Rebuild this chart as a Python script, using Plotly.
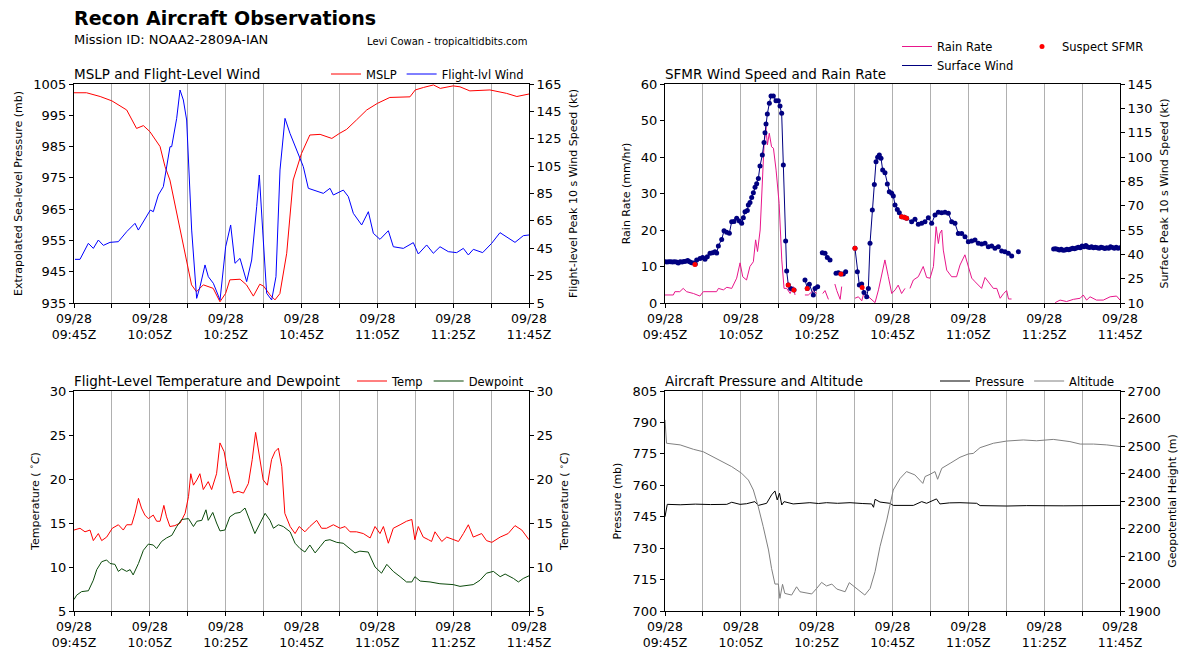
import datetime as dt
import plotly.graph_objects as go

BASE = dt.datetime(2022, 9, 28, 9, 45)

def tt(mins):
    return [BASE + dt.timedelta(minutes=m) for m in mins]

# ---------------- MSLP and Flight-Level Wind ----------------
mslp_t = [0, 3.3, 6.9, 10, 13.9, 16.5, 18.3, 20, 22.7, 24, 25.3, 27.1, 28.8, 30.2, 31, 32.3, 34.1,
          36.7, 38.5, 40, 41.1, 43.8, 45.5, 47.3, 49, 50, 51.7, 53, 54.3, 56.1, 57.8, 60, 62.2, 64.9,
          68, 70, 71.9, 74.5, 77.2, 80, 83.3, 88.6, 90, 92.2, 94.8, 96.6, 100, 101.8, 104.4, 109.7,
          114.1, 116.8, 120]
mslp = [1002.2, 1002.2, 1001.0, 999.6, 996.7, 990.8, 991.7, 989.8, 985.0, 978.6, 974.3, 963.7, 954.0,
        946.6, 940.8, 938.6, 940.8, 939.7, 935.4, 938.1, 942.4, 942.6, 940.8, 937.2, 941.0, 940.4,
        937.6, 936.0, 938.0, 950.9, 974.3, 982.8, 988.7, 988.9, 987.6, 989.2, 990.5, 993.5, 996.7,
        998.8, 1000.7, 1000.9, 1003.1, 1003.9, 1004.7, 1003.6, 1004.4, 1004.1, 1002.8, 1003.1,
        1002.0, 1001.0, 1001.8]

flw_t = [0.26, 1.58, 3.78, 5.10, 6.42, 7.74, 9.49, 11.69, 13.89, 16.09, 16.97, 18.29, 20.13, 20.92,
         22.24, 23.56, 25.32, 25.76, 27.08, 27.96, 28.84, 29.71, 31.03, 32.35, 33.23, 34.55, 35.43,
         36.75, 38.51, 40.00, 41.32, 42.46, 43.78, 45.54, 46.86, 48.18, 48.88, 49.76, 50.81, 52.13,
         53.27, 54.33, 55.65, 56.97, 58.73, 60.48, 61.80, 65.76, 67.52, 68.40, 71.03, 72.35, 73.67,
         75.87, 77.63, 78.95, 80.70, 82.90, 84.22, 86.86, 89.49, 90.81, 93.01, 94.77, 96.53, 98.73,
         100.92, 102.68, 104.00, 105.32, 107.78, 110.15, 112.35, 114.11, 116.31, 118.51, 120]
flw = [36.9, 36.9, 48.6, 44.9, 51.0, 47.1, 49.3, 49.8, 57.1, 63.2, 58.3, 64.4, 72.9, 71.7, 83.9, 90.0,
       119.2, 119.2, 139.9, 160.6, 153.3, 138.7, 58.3, 8.4, 16.9, 32.8, 24.2, 19.4, 7.2, 46.1, 62.0,
       34.0, 37.6, 20.6, 36.4, 75.4, 98.5, 58.3, 12.1, 7.2, 24.2, 102.2, 139.9, 128.9, 116.8, 104.6,
       88.8, 85.1, 88.8, 83.9, 87.5, 82.7, 70.5, 62.0, 71.7, 55.9, 51.5, 57.8, 46.1, 44.9, 49.1, 40.8,
       47.4, 41.3, 46.1, 42.5, 41.8, 44.9, 40.1, 44.2, 41.8, 48.6, 56.4, 53.0, 49.3, 54.2, 54.7]

# ---------------- SFMR Wind Speed and Rain Rate ----------------
rain_t = [0, 1.3, 2.2, 2.6, 3.9, 4.8, 5.7, 7.5, 9.2, 10.1, 11.9, 13.6, 14.1, 15.4, 16.3, 17.6, 18.9,
          19.8, 20.5, 21.5, 22.4, 23.3, 23.9, 24.4, 25.1, 25.5, 26.1, 26.6, 27.0, 27.5, 28.1, 28.6,
          29.3, 30.1, 30.8, 31.4, 32.1, 33.0, 33.8, 34.3, 35.5,
          36.9, 37.8, 39.1, 40.0, 40.8, 41.6, 42.2, 43.1, 44.0,
          44.8, 45.3, 46.2, 46.6, 48.0,
          50.1, 51.0, 51.9, 52.3, 52.7, 54.1, 55.4, 56.3, 57.1, 58.0, 58.9, 59.8, 60.7, 61.5, 62.4,
          63.3, 64.0,
          64.6, 65.5, 66.8, 68.1, 69.0, 69.9, 70.8, 71.5, 72.1, 72.5, 73.0, 73.4, 74.3, 75.6, 76.9,
          77.8, 79.1, 80.0, 80.9, 81.8, 82.6, 83.5, 84.4, 85.7, 86.6, 87.5, 88.4, 89.3, 90.1, 90.6,
          91.4, 97.0,
          102.9, 104.2, 105.9, 107.7, 109.5, 110.3, 111.2, 112.1, 113.8, 115.6, 117.4, 119.1, 120]
rain = [2.2, 2.2, 2.2, 3.1, 3.1, 4.0, 3.1, 2.6, 1.9, 3.1, 3.1, 3.1, 4.0, 3.6, 4.3, 4.0, 6.8, 11.0, 7.2,
        6.3, 10.0, 11.3, 17.3, 14.1, 20.0, 30.0, 42.8, 48.3, 43.3, 46.5, 42.8, 42.4, 36.4, 27.3, 11.8,
        4.0, 4.0, 2.6, 4.5, 2.2, None,
        2.2, 2.2, 3.4, 2.6, None, 2.6, 3.4, 1.0, None,
        5.2, 3.4, 1.0, 4.5, None,
        1.3, 1.7, 0.6, 2.2, 2.6, 1.3, 0.1, 3.6, 7.2, 11.8, 7.2, 2.6, 3.6, 4.9, 2.6, 4.0, None,
        4.0, 6.3, 7.2, 10.0, 7.0, 6.8, 10.0, 20.9, 16.3, 19.1, 20.0, 14.5, 9.0, 7.2, 7.2, 10.4,
        13.2, 10.0, 6.8, 5.8, 4.9, 4.0, 7.0, 5.4, 4.0, 4.0, 1.3, 2.6, 3.4, 1.1, 1.1, None,
        0.1, 0.8, 0.4, 1.0, 1.3, 2.2, 0.8, 1.7, 0.8, 0.8, 1.7, 1.9, 0.8]

sfc_t = [0, 0.5, 1, 1.5, 2, 2.5, 3, 3.5, 4, 4.5, 5, 5.5, 6, 6.5, 7, 7.5, 8.0, 8.35, 9.23, 9.93,
         10.55, 11.16, 11.87, 12.57, 13.19, 13.63, 14.07, 14.95, 15.56, 16.26, 16.97, 17.58, 18.20,
         18.90, 19.60, 20.22, 20.66, 21.10, 21.71, 21.98, 22.42, 22.86, 23.30, 23.74, 24.18, 24.62,
         25.05, 25.67, 26.11, 26.37, 26.64, 26.99, 27.52, 27.96, 28.57, 29.27, 29.89, 30.33, 30.77,
         31.21, 31.82, 32.09, 32.53, 33.14, 34.02, 35.5,
         36.92, 37.54, 38.07, 39.12, 39.56, 40.26, 40.9,
         41.49, 42.20, 42.81, 43.52, 44.3,
         45.10, 45.71, 46.42, 47.03, 47.65, 48.9,
         50.11, 50.73, 51.25, 51.87, 52.48, 53.19, 53.63, 54.07, 54.68, 55.21, 55.65, 56.09, 56.53,
         56.97, 57.41, 58.02, 58.64, 59.16, 59.78, 60.22, 60.66, 61.27, 61.80, 62.42, 63.12, 63.74,
         65.05, 65.93, 66.81, 67.69, 68.57, 69.45, 70.33, 71.21, 72.09, 72.97, 73.85, 74.73, 75.60,
         76.48, 77.36, 78.24, 79.12, 80.00, 80.88, 81.76, 82.64, 83.52, 84.40, 85.27, 86.15, 87.03,
         87.91, 88.79, 89.67, 90.55, 91.43, 92.3, 93.19, 97.0,
         102.5, 103, 103.5, 104, 104.5, 105, 105.5, 106, 106.5, 107, 107.5, 108, 108.5, 109, 109.5,
         110, 110.5, 111, 111.5, 112, 112.5, 113, 113.5, 114, 114.5, 115, 115.5, 116, 116.5, 117,
         117.5, 118, 118.5, 119, 119.5, 120]
sfc = [35.5, 35.3, 35.5, 35.5, 35.2, 35.5, 35.3, 34.6, 35.5, 35.3, 35.6, 35.8, 36.2, 35.5, 34.8,
       34.6, 34.0, 36.5, 37.5, 38.0, 37.0, 38.5, 40.6, 41.0, 41.6, 40.8, 45.1, 49.2, 54.5, 53.6,
       53.0, 60.1, 60.3, 62.2, 60.5, 59.1, 62.5, 66.3, 67.0, 70.4, 72.0, 75.1, 78.0, 81.3, 83.5,
       86.8, 94.4, 101.2, 109.0, 115.0, 120.3, 126.5, 133.1, 137.6, 137.6, 134.7, 134.7, 131.4,
       126.9, 95.0, 48.2, 29.7, 21.1, 19.0, 18.0, None,
       24.2, 19.0, 21.5, 14.9, 19.0, 20.0, None,
       41.0, 40.6, 38.1, 36.5, None,
       28.3, 28.7, 27.9, 27.9, 29.3, None,
       43.7, 29.3, 21.1, 21.7, 16.4, 13.9, 19.0, 46.8, 67.3, 83.1, 97.1, 99.8, 101.2, 99.2, 92.0,
       90.3, 83.4, 78.6, 77.6, 76.0, 70.4, 67.7, 65.7, 63.2, 62.8, 62.2, 60.1, 61.6, 58.5, 59.1,
       60.1, 62.6, 59.1, 64.2, 65.9, 65.7, 65.9, 65.3, 60.1, 59.1, 52.9, 52.9, 50.9, 47.8, 48.2,
       48.8, 46.8, 46.4, 46.8, 44.7, 45.1, 43.7, 44.7, 42.0, 41.6, 40.6, 39.0, None, 41.6, None,
       43.3, 43.5, 43.1, 42.7, 43.1, 42.5, 42.7, 43.1, 42.9, 43.3, 43.7, 43.5, 43.9, 44.3, 44.0,
       45.2, 44.6, 45.5, 44.5, 44.2, 44.6, 44.0, 44.4, 44.1, 43.8, 44.3, 44.0, 43.6, 44.1, 43.8,
       44.6, 44.2, 43.7, 44.3, 43.8, 44.1]

sus_t = [7.9, 32.5, 34.0, 37.5, 46.4, 50.1, 52.0, 62.4, 63.1, 63.7]
sus = [33.8, 21.1, 18.0, 19.0, 27.9, 43.7, 19.5, 63.2, 62.8, 62.2]

# ---------------- Temperature and Dewpoint ----------------
temp_t = [0, 1.58, 2.9, 4.22, 5.1, 6.42, 7.3, 8.62, 10.1, 11.7, 13.0, 13.9, 15.2, 16.1, 17.0, 17.8,
          18.7, 19.6, 20.9, 21.8, 22.7, 23.7, 24.4, 25.3, 26.6, 28.0, 29.3, 30.2, 30.8, 31.5, 32.4,
          33.2, 34.1, 35.4, 36.3, 37.6, 38.5, 39.6, 40.3, 41.1, 42.0, 43.3, 44.7, 46.0, 47.0, 47.9,
          49.1, 49.9, 51.0, 52.1, 53.0, 53.9, 54.8, 55.6, 57.0, 58.3, 59.4, 60.9, 62.2, 64.0, 65.3,
          66.6, 68.4, 70.2, 71.5, 72.8, 74.5, 76.3, 78.1, 79.4, 80.7, 81.6, 82.9, 84.2, 86.0, 87.7,
          89.1, 89.9, 90.8, 92.1, 93.5, 94.3, 95.2, 97.0, 98.3, 100.0, 101.4, 102.7, 104.0, 105.3,
          107.5, 108.8, 110.2, 112.4, 114.5, 116.3, 118.1, 120]
temp = [14.2, 14.4, 14.0, 14.2, 13.0, 13.8, 13.0, 13.4, 14.4, 14.8, 14.2, 14.8, 14.8, 16.1, 17.8,
        16.7, 15.9, 15.5, 15.9, 15.2, 15.2, 17.0, 15.7, 14.6, 14.7, 15.0, 16.1, 18.0, 20.6, 19.3,
        19.9, 20.6, 18.8, 19.7, 18.8, 20.6, 24.1, 23.1, 21.4, 19.9, 18.4, 18.6, 18.4, 19.5, 22.2,
        25.3, 21.8, 19.9, 19.3, 22.2, 23.1, 23.5, 21.4, 16.1, 14.6, 13.8, 14.6, 14.0, 14.6, 15.3,
        14.4, 14.4, 14.8, 14.4, 14.6, 14.0, 14.0, 13.8, 13.3, 14.6, 13.8, 14.6, 12.7, 14.4, 14.8,
        15.2, 15.4, 13.1, 14.6, 13.4, 13.1, 12.9, 14.0, 12.9, 13.4, 13.1, 12.9, 13.8, 14.8, 13.4,
        13.8, 13.0, 12.8, 13.4, 13.8, 14.7, 14.2, 13.1]

dew_t = [0, 0.7, 2.0, 3.8, 5.1, 6.0, 7.3, 8.6, 9.5, 10.8, 11.7, 12.6, 13.9, 14.8, 15.6, 17.0, 18.3,
         19.6, 20.9, 21.8, 23.1, 24.4, 25.8, 27.1, 28.4, 30.2, 31.5, 32.4, 33.7, 34.8, 35.4, 36.6,
         37.6, 38.5, 39.8, 41.1, 42.5, 43.8, 45.1, 46.4, 47.7, 49.1, 50.4, 51.7, 52.6, 53.9, 55.2,
         57.0, 58.3, 59.6, 60.9, 62.2, 63.6, 64.9, 66.2, 67.5, 69.3, 71.0, 72.8, 74.1, 75.4, 77.6,
         79.4, 81.1, 82.5, 84.2, 86.0, 87.7, 89.1, 89.9, 91.3, 93.9, 96.5, 100.0, 101.8, 105.3,
         107.1, 108.8, 110.6, 112.4, 113.7, 115.9, 117.2, 118.5, 120]
dew = [6.3, 6.8, 7.2, 7.3, 8.5, 9.7, 10.6, 10.8, 10.4, 10.3, 9.5, 9.8, 9.5, 9.7, 9.1, 10.4, 11.9,
       12.6, 12.5, 12.1, 12.9, 13.3, 13.6, 14.6, 15.4, 15.5, 14.6, 15.2, 15.3, 16.5, 15.3, 16.2,
       15.0, 14.1, 14.2, 15.7, 16.1, 16.2, 16.7, 15.3, 13.8, 15.0, 16.1, 15.3, 14.4, 14.8, 14.6,
       14.0, 12.7, 12.1, 11.7, 12.5, 11.6, 12.3, 13.0, 13.1, 12.8, 12.7, 12.1, 11.6, 11.8, 11.7,
       10.0, 9.3, 10.3, 9.5, 8.9, 8.3, 8.3, 8.9, 8.4, 8.3, 8.1, 8.0, 7.8, 8.0, 8.5, 9.3, 9.5, 8.9,
       9.2, 8.7, 8.3, 8.7, 9.0]

# ---------------- Aircraft Pressure and Altitude ----------------
pres_t = [0, 0.6, 4.0, 8.0, 12.0, 16.3, 17.6, 19.8, 21.5, 23.7, 24.6, 26.8, 28.1, 29.0, 29.6, 30.2,
          30.8, 31.4, 33.8, 36.0, 38.2, 40.5, 42.6, 45.5, 48.8, 52.0, 54.5, 55.0, 55.4, 56.7, 59.3,
          60.2, 65.5, 67.7, 69.0, 71.6, 72.5, 75.0, 77.8, 82.2, 83.1, 90.1, 95.4, 105.0, 120]
pres = [745.0, 750.9, 750.7, 751.0, 750.8, 750.9, 751.9, 750.9, 751.2, 752.2, 750.4, 751.4, 755.4,
        757.3, 753.0, 756.2, 750.6, 752.2, 751.1, 751.5, 751.7, 751.3, 751.7, 751.4, 751.7, 751.3,
        751.1, 749.5, 753.3, 752.0, 751.4, 750.4, 750.4, 752.2, 751.4, 753.5, 751.1, 751.6, 751.7,
        751.4, 750.3, 750.1, 750.3, 750.2, 750.4]

alt_t = [0, 0.4, 4.0, 7.5, 10.1, 12.7, 15.4, 17.6, 20.2, 22.0, 23.3, 24.6, 25.9, 27.3, 28.1, 29.0,
         29.9, 30.3, 31.0, 31.6, 33.4, 34.7, 35.6, 38.7, 40.0, 41.3, 42.6, 44.0, 45.3, 47.5, 48.6,
         50.5, 52.7, 54.1, 55.4, 56.7, 58.5, 60.2, 62.0, 63.7, 65.9, 68.0, 68.6, 69.9, 71.2, 71.9,
         73.0, 75.2, 77.8, 80.0, 81.3, 83.1, 86.6, 90.1, 94.5, 98.0, 102.4, 106.8, 109.5, 113.0,
         116.5, 120]
alt = [2595, 2510, 2504, 2488, 2479, 2461, 2443, 2425, 2401, 2376, 2340, 2279, 2207, 2122, 2055,
       1998, 1998, 1946, 1997, 1964, 1958, 1988, 1970, 1962, 1982, 2004, 1991, 1998, 1980, 1970,
       2003, 1982, 1958, 1982, 2043, 2134, 2231, 2340, 2382, 2407, 2395, 2364, 2389, 2397, 2407,
       2379, 2419, 2437, 2459, 2471, 2473, 2494, 2510, 2518, 2522, 2519, 2524, 2516, 2507, 2507,
       2504, 2498]

# ---------------- axis ticks ----------------
tick_minutes = list(range(0, 121, 10))
tick_text = [("09/28<br>" + (BASE + dt.timedelta(minutes=m)).strftime("%H:%MZ")) if m % 20 == 0 else " "
             for m in tick_minutes]

FONT = "DejaVu Sans"
W, H = 1193, 659
xl = [74 / W, 529 / W]
xr = [665 / W, 1120 / W]
yt = [1 - 303 / H, 1 - 84 / H]
yb = [1 - 611 / H, 1 - 391 / H]

fig = go.Figure()

fig.add_trace(go.Scatter(x=tt(mslp_t), y=mslp, mode="lines", name="MSLP",
                         line=dict(color="#ff0000", width=1), xaxis="x", yaxis="y", legend="legend"))
fig.add_trace(go.Scatter(x=tt(flw_t), y=flw, mode="lines", name="Flight-lvl Wind",
                         line=dict(color="#0000ff", width=1), xaxis="x", yaxis="y2", legend="legend"))

fig.add_trace(go.Scatter(x=tt(rain_t), y=rain, mode="lines", name="Rain Rate",
                         line=dict(color="#e8168b", width=1), xaxis="x2", yaxis="y3", legend="legend2"))
fig.add_trace(go.Scatter(x=tt(sfc_t), y=sfc, mode="lines", name="Surface Wind",
                         line=dict(color="#000080", width=1), xaxis="x2", yaxis="y4", legend="legend2"))
fig.add_trace(go.Scatter(x=tt(sfc_t), y=sfc, mode="markers", showlegend=False,
                         marker=dict(color="#000080", size=5), xaxis="x2", yaxis="y4"))
fig.add_trace(go.Scatter(x=tt(sus_t), y=sus, mode="markers", name="Suspect SFMR",
                         marker=dict(color="#ff0000", size=5), xaxis="x2", yaxis="y4", legend="legend3"))

fig.add_trace(go.Scatter(x=tt(temp_t), y=temp, mode="lines", name="Temp",
                         line=dict(color="#ff0000", width=1), xaxis="x3", yaxis="y5", legend="legend4"))
fig.add_trace(go.Scatter(x=tt(dew_t), y=dew, mode="lines", name="Dewpoint",
                         line=dict(color="#0b4a0b", width=1), xaxis="x3", yaxis="y5", legend="legend4"))
fig.add_trace(go.Scatter(x=tt(temp_t), y=temp, mode="lines", showlegend=False, hoverinfo="skip",
                         line=dict(color="rgba(0,0,0,0)", width=0), xaxis="x3", yaxis="y6"))

fig.add_trace(go.Scatter(x=tt(pres_t), y=pres, mode="lines", name="Pressure",
                         line=dict(color="#000000", width=1), xaxis="x4", yaxis="y7", legend="legend5"))
fig.add_trace(go.Scatter(x=tt(alt_t), y=alt, mode="lines", name="Altitude",
                         line=dict(color="#808080", width=1), xaxis="x4", yaxis="y8", legend="legend5"))

tickfont = dict(family=FONT, size=13, color="black")
titlefont = dict(family=FONT, size=11, color="black")


def xax(domain, anchor):
    return dict(domain=domain, anchor=anchor, type="date", automargin=False,
                range=[BASE, BASE + dt.timedelta(minutes=120)],
                tickmode="array", tickvals=tt(tick_minutes), ticktext=tick_text,
                ticks="outside", ticklen=4, tickcolor="black", tickwidth=1,
                showgrid=True, gridcolor="#b0b0b0", gridwidth=1,
                showline=True, linecolor="black", linewidth=1, mirror=True,
                zeroline=False, tickfont=dict(family=FONT, size=12.5, color="black"))


def yax(domain, anchor, rng, vals, title, side="left", overlay=None, standoff=8):
    d = dict(domain=domain, anchor=anchor, range=rng, tickmode="array", tickvals=vals,
             automargin=False,
             ticks="outside", ticklen=4, tickcolor="black", tickwidth=1,
             showgrid=False, showline=True, linecolor="black", linewidth=1, zeroline=False,
             side=side, tickfont=tickfont,
             title=dict(text=title, font=titlefont, standoff=standoff))
    if overlay:
        d["overlaying"] = overlay
    return d


fig.update_layout(
    width=W, height=H, margin=dict(l=0, r=0, t=0, b=0, autoexpand=False),
    paper_bgcolor="white", plot_bgcolor="white",
    font=dict(family=FONT, color="black"),
    xaxis=xax(xl, "y"),
    xaxis2=xax(xr, "y3"),
    xaxis3=xax(xl, "y5"),
    xaxis4=xax(xr, "y7"),
    yaxis=yax(yt, "x", [935, 1005], list(range(935, 1006, 10)), "Extrapolated Sea-level Pressure (mb)"),
    yaxis2=yax(yt, "x", [5, 165], list(range(5, 166, 20)), "Flight-level Peak 10 s Wind Speed (kt)",
               side="right", overlay="y"),
    yaxis3=yax(yt, "x2", [0, 60], list(range(0, 61, 10)), "Rain Rate (mm/hr)"),
    yaxis4=yax(yt, "x2", [10, 145], list(range(10, 146, 15)), "Surface Peak 10 s Wind Speed (kt)",
               side="right", overlay="y3"),
    yaxis5=yax(yb, "x3", [5, 30], list(range(5, 31, 5)), "Temperature ( <sup>∘</sup><i>C</i>)"),
    yaxis6=yax(yb, "x3", [5, 30], list(range(5, 31, 5)), "Temperature ( <sup>∘</sup><i>C</i>)",
               side="right", overlay="y5"),
    yaxis7=yax(yb, "x4", [700, 805], list(range(700, 806, 15)), "Pressure (mb)"),
    yaxis8=yax(yb, "x4", [1900, 2700], list(range(1900, 2701, 100)), "Geopotential Height (m)",
               side="right", overlay="y7"),
    legend=dict(orientation="h", x=xl[1], xanchor="right", y=1 - 74 / H, yanchor="middle",
                font=dict(family=FONT, size=11.5), bgcolor="rgba(0,0,0,0)"),
    legend2=dict(orientation="v", x=897 / W, xanchor="left", y=1 - 32 / H, yanchor="top",
                 font=dict(family=FONT, size=11.5), bgcolor="rgba(0,0,0,0)"),
    legend3=dict(orientation="v", x=1022 / W, xanchor="left", y=1 - 32 / H, yanchor="top",
                 font=dict(family=FONT, size=11.5), bgcolor="rgba(0,0,0,0)"),
    legend4=dict(orientation="h", x=xl[1], xanchor="right", y=1 - 381 / H, yanchor="middle",
                 font=dict(family=FONT, size=11.5), bgcolor="rgba(0,0,0,0)"),
    legend5=dict(orientation="h", x=xr[1], xanchor="right", y=1 - 381 / H, yanchor="middle",
                 font=dict(family=FONT, size=11.5), bgcolor="rgba(0,0,0,0)"),
    showlegend=True,
)

annots = [
    dict(text="<b>Recon Aircraft Observations</b>", x=74 / W, y=1 - 18 / H, size=19),
    dict(text="Mission ID: NOAA2-2809A-IAN", x=74 / W, y=1 - 39 / H, size=13),
    dict(text="MSLP and Flight-Level Wind", x=74 / W, y=1 - 74 / H, size=13.5),
    dict(text="SFMR Wind Speed and Rain Rate", x=665 / W, y=1 - 74 / H, size=13.5),
    dict(text="Flight-Level Temperature and Dewpoint", x=74 / W, y=1 - 381 / H, size=13.5),
    dict(text="Aircraft Pressure and Altitude", x=665 / W, y=1 - 381 / H, size=13.5),
]
for a in annots:
    fig.add_annotation(text=a["text"], x=a["x"], y=a["y"], xref="paper", yref="paper",
                       xanchor="left", yanchor="middle", showarrow=False, xshift=-2,
                       font=dict(family=FONT, size=a["size"], color="black"))
fig.add_annotation(text="Levi Cowan - tropicaltidbits.com", x=529 / W, y=1 - 41 / H, xref="paper",
                   yref="paper", xanchor="right", yanchor="middle", showarrow=False,
                   font=dict(family=FONT, size=10, color="black"))

fig.write_html("out.html", config={"displayModeBar": False},
               post_script="document.body.style.margin='0';")
